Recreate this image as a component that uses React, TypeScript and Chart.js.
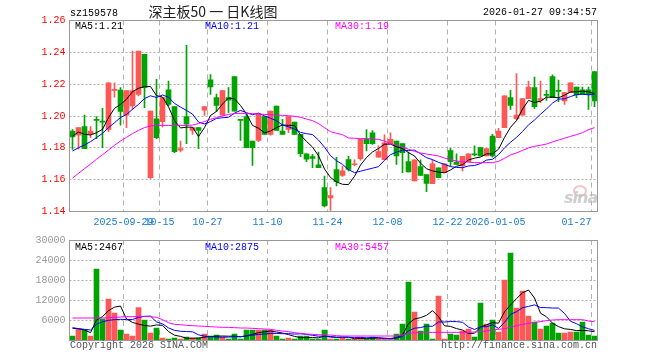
import React, { useEffect, useRef } from "react";
import { Chart, registerables } from "chart.js";

Chart.register(...registerables);

// ---------- DATA ----------
const dates = [
  "2025-09-16","2025-09-17","2025-09-18","2025-09-19","2025-09-22","2025-09-23","2025-09-24","2025-09-25","2025-09-26","2025-09-29","2025-09-30",
  "2025-10-09","2025-10-10","2025-10-13","2025-10-14","2025-10-15","2025-10-16","2025-10-17","2025-10-20","2025-10-21","2025-10-22","2025-10-23","2025-10-24","2025-10-27","2025-10-28","2025-10-29","2025-10-30","2025-10-31",
  "2025-11-03","2025-11-04","2025-11-05","2025-11-06","2025-11-07","2025-11-10","2025-11-11","2025-11-12","2025-11-13","2025-11-14","2025-11-17","2025-11-18","2025-11-19","2025-11-20","2025-11-21","2025-11-24","2025-11-25","2025-11-26","2025-11-27","2025-11-28",
  "2025-12-01","2025-12-02","2025-12-03","2025-12-04","2025-12-05","2025-12-08","2025-12-09","2025-12-10","2025-12-11","2025-12-12","2025-12-15","2025-12-16","2025-12-17","2025-12-18","2025-12-19","2025-12-22","2025-12-23","2025-12-24","2025-12-25","2025-12-26","2025-12-29","2025-12-30","2025-12-31",
  "2026-01-05","2026-01-06","2026-01-07","2026-01-08","2026-01-09","2026-01-12","2026-01-13","2026-01-14","2026-01-15","2026-01-16","2026-01-19","2026-01-20","2026-01-21","2026-01-22","2026-01-23","2026-01-26","2026-01-27",
];

const openP = [
  1.1906,1.1880,1.1933,1.1888,1.1977,1.1966,1.1916,1.2161,1.2163,1.2006,
  1.2063,1.2136,1.2387,1.1613,1.1983,1.1964,1.2165,1.2059,1.1786,1.1996,
  1.1910,1.1927,1.2036,1.2228,1.2115,1.2006,1.2115,1.2247,1.1979,1.1996,
  1.1843,1.1847,1.1996,1.1885,1.2063,1.1906,1.1916,1.1962,1.1885,1.1763,
  1.1745,1.1694,1.1550,1.1485,1.1663,1.1627,1.1726,1.1694,1.1732,1.1853,
  1.1895,1.1742,1.1726,1.1826,1.1843,1.1826,1.1713,1.1592,1.1682,1.1632,
  1.1575,1.1675,1.1644,1.1782,1.1711,1.1686,1.1713,1.1763,1.1801,1.1749,
  1.1874,1.1864,1.1927,1.2115,1.1983,1.2006,1.2109,1.2178,1.2098,1.2134,
  1.2247,1.2159,1.2094,1.2147,1.2182,1.2165,1.2165,1.2279,
];
const highP = [
  1.1915,1.1927,1.2006,1.1934,1.1996,1.2048,1.2209,1.2209,1.2178,1.2159,
  1.2408,1.2408,1.2387,1.2031,1.2230,1.2115,1.2220,1.2059,1.1843,1.2444,
  1.1927,1.1927,1.2059,1.2260,1.2138,1.2159,1.2178,1.2247,1.1979,1.2015,
  1.1843,1.2010,1.1996,1.2031,1.2063,1.1979,1.1996,1.1962,1.1885,1.1763,
  1.1759,1.1774,1.1623,1.1550,1.1740,1.1686,1.1747,1.1724,1.1853,1.1914,
  1.1908,1.1812,1.1881,1.1895,1.1843,1.1826,1.1774,1.1724,1.1724,1.1632,
  1.1724,1.1675,1.1700,1.1797,1.1763,1.1747,1.1763,1.1812,1.1801,1.1795,
  1.1885,1.1923,1.2126,1.2161,1.2266,1.2109,1.2220,1.2245,1.2220,1.2161,
  1.2258,1.2226,1.2147,1.2209,1.2182,1.2182,1.2182,1.2279,
];
const lowP = [
  1.1790,1.1791,1.1795,1.1864,1.1858,1.1801,1.1902,1.2119,1.1943,1.1927,
  1.2042,1.2126,1.2052,1.1608,1.1858,1.1931,1.2063,1.1770,1.1774,1.1826,
  1.1885,1.1795,1.2004,1.2136,1.2027,1.2006,1.2021,1.2031,1.1847,1.1801,
  1.1690,1.1839,1.1885,1.1879,1.1910,1.1885,1.1895,1.1885,1.1745,1.1713,
  1.1675,1.1675,1.1428,1.1407,1.1560,1.1621,1.1655,1.1686,1.1722,1.1780,
  1.1822,1.1742,1.1726,1.1826,1.1696,1.1644,1.1648,1.1592,1.1627,1.1525,
  1.1575,1.1613,1.1644,1.1686,1.1696,1.1655,1.1713,1.1749,1.1749,1.1749,
  1.1742,1.1864,1.1927,1.2042,1.1975,1.2006,1.2109,1.2048,1.2084,1.2098,
  1.2115,1.2090,1.2073,1.2147,1.2115,1.2136,1.2042,1.2059,
];
const closeP = [
  1.1868,1.1927,1.1795,1.1906,1.1973,1.1962,1.2209,1.2165,1.2029,1.2159,
  1.2159,1.2408,1.2178,1.2031,1.1864,1.2115,1.2073,1.1776,1.1795,1.1948,
  1.1927,1.1910,1.2059,1.2182,1.2067,1.2159,1.2100,1.2031,1.1973,1.1801,
  1.1801,1.2010,1.1885,1.2031,1.1910,1.1885,1.1996,1.1885,1.1763,1.1728,
  1.1734,1.1675,1.1435,1.1500,1.1588,1.1655,1.1665,1.1698,1.1853,1.1826,
  1.1826,1.1776,1.1832,1.1853,1.1749,1.1770,1.1648,1.1724,1.1627,1.1577,
  1.1700,1.1613,1.1700,1.1713,1.1696,1.1747,1.1763,1.1755,1.1749,1.1795,
  1.1749,1.1906,1.2126,1.2067,1.2006,1.2109,1.2182,1.2059,1.2109,1.2130,
  1.2115,1.2155,1.2147,1.2209,1.2132,1.2136,1.2136,1.2095,
];

const priceMa5 = [
  1.1874,1.1899,1.1885,1.1881,1.1895,1.1916,1.1990,1.2048,1.2073,1.2105,
  1.2153,1.2174,1.2185,1.2185,1.2128,1.2119,1.2058,1.1972,1.1925,1.1930,
  1.1930,1.1871,1.1927,1.2003,1.2029,1.2075,1.2113,1.2108,1.2066,1.2013,
  1.1941,1.1923,1.1894,1.1906,1.1927,1.1944,1.1941,1.1941,1.1880,1.1840,
  1.1805,1.1750,1.1667,1.1614,1.1586,1.1571,1.1569,1.1621,1.1692,1.1739,
  1.1774,1.1796,1.1823,1.1823,1.1807,1.1796,1.1770,1.1749,1.1704,1.1669,
  1.1655,1.1648,1.1643,1.1661,1.1684,1.1694,1.1724,1.1735,1.1742,1.1762,
  1.1762,1.1791,1.1865,1.1929,1.1971,1.2043,1.2098,1.2085,1.2093,1.2118,
  1.2119,1.2114,1.2131,1.2151,1.2152,1.2156,1.2152,1.2141,
];
const priceMa10 = [
  1.1780,1.1801,1.1818,1.1839,1.1864,1.1891,1.1927,1.1958,1.1990,1.2010,
  1.2042,1.2073,1.2110,1.2127,1.2116,1.2132,1.2118,1.2079,1.2056,1.2035,
  1.2012,1.1962,1.1950,1.1965,1.1985,1.1989,1.1992,1.2018,1.2035,1.2021,
  1.2008,1.2018,1.2001,1.1986,1.1970,1.1943,1.1932,1.1918,1.1897,1.1889,
  1.1883,1.1849,1.1804,1.1751,1.1719,1.1696,1.1663,1.1644,1.1653,1.1663,
  1.1672,1.1682,1.1722,1.1757,1.1773,1.1785,1.1783,1.1786,1.1763,1.1738,
  1.1726,1.1709,1.1696,1.1682,1.1677,1.1675,1.1686,1.1689,1.1701,1.1723,
  1.1728,1.1757,1.1800,1.1835,1.1866,1.1903,1.1944,1.1975,1.2011,1.2044,
  1.2081,1.2106,1.2108,1.2122,1.2135,1.2137,1.2133,1.2136,
];
const priceMa30 = [
  1.1610,1.1640,1.1669,1.1698,1.1728,1.1757,1.1786,1.1816,1.1843,1.1866,
  1.1889,1.1910,1.1927,1.1937,1.1941,1.1941,1.1941,1.1941,1.1941,1.1941,
  1.1943,1.1952,1.1965,1.1979,1.1990,1.2000,1.2010,1.2015,1.2015,1.2015,
  1.2015,1.2013,1.2010,1.2008,1.2006,1.2004,1.2002,1.1998,1.1992,1.1981,
  1.1971,1.1952,1.1927,1.1902,1.1891,1.1883,1.1862,1.1860,1.1858,1.1858,
  1.1855,1.1853,1.1843,1.1826,1.1816,1.1805,1.1791,1.1778,1.1768,1.1761,
  1.1755,1.1749,1.1736,1.1726,1.1717,1.1713,1.1710,1.1707,1.1707,1.1707,
  1.1707,1.1715,1.1734,1.1755,1.1768,1.1784,1.1799,1.1810,1.1816,1.1824,
  1.1837,1.1849,1.1860,1.1872,1.1883,1.1895,1.1914,1.1927,
];

const volume = [
  1200,3200,3000,1200,21300,6300,12300,8100,3000,1800,
  1200,9700,6000,2100,3600,600,300,600,300,900,
  600,600,1800,1200,1500,900,300,1800,300,3000,
  3000,3000,3000,3000,1200,300,600,300,1200,1200,
  300,300,3000,300,300,600,300,300,900,300,
  900,300,300,300,1800,4800,17400,8400,2700,4800,
  300,13200,300,1800,1500,2700,3300,900,11100,4800,
  6000,2400,18000,26100,9600,14700,7200,5400,3300,4200,
  5100,2100,2100,2400,2400,5400,1500,1200,
];
// 1 = rising day (red bar), 0 = falling day (green bar)
const volumeUp = [
  0,1,0,1,0,0,1,1,0,1,
  1,1,0,1,0,1,0,0,1,0,
  1,0,1,0,0,1,0,0,0,0,
  0,1,0,1,0,0,1,0,0,0,
  0,0,0,1,0,1,0,1,1,0,
  0,1,1,1,0,0,0,1,0,0,
  0,1,1,0,0,1,1,0,0,1,
  0,1,1,0,1,1,1,0,1,0,
  0,0,1,1,0,0,0,0,
];
const volMa5 = [
  3500,3400,3000,2200,5980,7000,8820,9840,10200,6300,
  5280,4760,4340,4160,4520,4400,2520,1440,1080,540,
  540,600,840,1020,1140,1200,1140,1140,960,1260,
  1680,2220,2460,2700,2400,2100,1620,1080,720,720,
  720,660,1200,1020,840,900,900,360,480,480,
  540,540,540,420,720,1500,4920,6300,6700,7400,
  8800,7000,4260,4080,3420,3000,1920,2040,3900,4560,
  5220,5040,8460,10500,12420,14160,15000,12600,8040,6960,
  5040,4020,3360,3180,2820,2880,2760,2467,
];
const volMa10 = [
  3700,3400,3200,3000,4700,5500,5900,6100,6200,6140,
  6140,6790,7090,7180,5410,4840,3640,2890,2620,2530,
  2470,1560,1140,1050,840,870,870,990,990,1200,
  1440,1680,1800,1980,1950,1890,1920,1770,1860,1680,
  1410,1140,1140,870,780,810,780,780,750,660,
  720,720,450,450,600,1020,2730,3540,3720,4170,
  4110,5400,5400,5550,5520,5310,3900,3150,3990,3990,
  4560,3480,5250,7680,8490,9690,10080,10530,9750,9690,
  9600,9570,7980,5610,4890,3960,3390,2875,
];
const volMa30 = [
  6600,6600,6600,6600,6600,6600,6700,6800,6900,7000,
  7000,7100,7100,7000,6800,6100,5200,4700,4600,4400,
  4300,4200,4100,4000,3900,3800,3800,3700,3600,3600,
  3500,3400,3300,3200,2900,2700,2500,2200,2000,1800,
  1700,1600,1500,1500,1300,1200,1200,1200,1200,1200,
  1200,1200,1200,1200,1200,1500,1900,2200,2300,2300,
  2300,2300,2300,2300,2300,2300,2300,2400,2500,2700,
  3000,3200,3400,3800,4300,4700,5000,5300,5500,5800,
  6000,6100,6100,6100,6100,6100,5700,5457,
];

const tickDates = ["2025-09-29","2025-10-15","2025-10-27","2025-11-10","2025-11-24","2025-12-08","2025-12-22","2026-01-05","2026-01-27"];
const tickTexts = ["2025-09-29","10-15","10-27","11-10","11-24","12-08","12-22","2026-01-05","01-27"];
const priceGridValues = [1.16, 1.18, 1.20, 1.22, 1.24];
const volGridValues = [6000, 12000, 18000, 24000];

// ---------- STYLE ----------
const UP = "#ff5656";
const DOWN = "#00a400";
const GRID = "#b0b0b0";
const FRAME = "#999999";
const MONO = "'Liberation Mono', 'DejaVu Sans Mono', monospace";

function makeFrame(id: string, hVals: number[], showX: boolean) {
  return {
    id,
    beforeDatasetsDraw(chart: any) {
      const { ctx, chartArea: a, scales } = chart;
      const xs = scales.x;
      const ys = scales.y;
      ctx.save();
      ctx.lineWidth = 1;
      ctx.strokeStyle = GRID;
      ctx.setLineDash([2, 2]);
      for (const v of hVals) {
        const py = Math.floor(ys.getPixelForValue(v)) + 0.5;
        ctx.beginPath();
        ctx.moveTo(a.left, py);
        ctx.lineTo(a.right, py);
        ctx.stroke();
      }
      ctx.setLineDash([5, 4]);
      const half = (a.right - a.left) / dates.length / 2;
      for (const d of tickDates) {
        const i = dates.indexOf(d);
        const px = Math.floor(xs.getPixelForValue(i) - half) + 0.5;
        ctx.beginPath();
        ctx.moveTo(px, a.top);
        ctx.lineTo(px, a.bottom);
        ctx.stroke();
      }
      ctx.restore();
    },
    afterDatasetsDraw(chart: any) {
      const { ctx, chartArea: a } = chart;
      ctx.save();
      ctx.lineWidth = 1;
      ctx.strokeStyle = FRAME;
      ctx.setLineDash([]);
      const l = Math.floor(a.left) + 0.5;
      const r = Math.floor(a.right) + 0.5;
      const t = Math.floor(a.top) + 0.5;
      const b = Math.floor(a.bottom) + 0.5;
      ctx.strokeRect(l, t, r - l, b - t);
      ctx.restore();
    },
    afterDraw(chart: any) {
      if (!showX) return;
      const { ctx, chartArea: a, scales } = chart;
      const xs = scales.x;
      const half = (a.right - a.left) / dates.length / 2;
      ctx.save();
      ctx.font = "10px " + MONO;
      ctx.fillStyle = "#1a7ad4";
      ctx.textAlign = "center";
      ctx.textBaseline = "alphabetic";
      tickDates.forEach((d, k) => {
        const i = dates.indexOf(d);
        let cx = xs.getPixelForValue(i) - half;
        const w = ctx.measureText(tickTexts[k]).width;
        if (cx + w / 2 > a.right - 6) cx = a.right - 6 - w / 2;
        ctx.fillText(tickTexts[k], cx, 224.5);
      });
      ctx.restore();
    },
  };
}

function Txt(props: any) {
  const { left, right, top, color, children, size } = props;
  const fs = size || 10;
  return (
    <div
      style={{
        position: "absolute",
        left,
        right,
        top,
        color: color || "#000",
        fontFamily: MONO,
        fontSize: fs,
        lineHeight: fs + "px",
        whiteSpace: "pre",
        zIndex: 3,
      }}
    >
      {children}
    </div>
  );
}

export default function App() {
  const priceRef = useRef<HTMLCanvasElement>(null);
  const volRef = useRef<HTMLCanvasElement>(null);

  useEffect(() => {
    const candleColors = closeP.map((c, i) => (c >= openP[i] ? UP : DOWN));
    const volColors = volumeUp.map((u) => (u ? UP : DOWN));
    const lineDs = (data: number[], color: string) => ({
      type: "line" as const,
      data,
      borderColor: color,
      borderWidth: 1,
      pointRadius: 0,
      pointHoverRadius: 0,
      fill: false,
      tension: 0,
      order: 0,
    });

    const priceChart = new Chart(priceRef.current as HTMLCanvasElement, {
      type: "bar",
      data: {
        labels: dates,
        datasets: [
          {
            type: "bar",
            data: dates.map((_, i) => [lowP[i], highP[i]]),
            backgroundColor: candleColors,
            barThickness: 1,
            grouped: false,
            order: 2,
          } as any,
          {
            type: "bar",
            data: dates.map((_, i) => [Math.min(openP[i], closeP[i]), Math.max(openP[i], closeP[i])]),
            backgroundColor: candleColors,
            barThickness: 5,
            grouped: false,
            minBarLength: 1,
            order: 1,
          } as any,
          lineDs(priceMa30, "#ff00ff"),
          lineDs(priceMa10, "#0000ff"),
          lineDs(priceMa5, "#000000"),
        ],
      },
      options: {
        responsive: false,
        maintainAspectRatio: false,
        animation: false,
        events: [],
        layout: { padding: { left: 0, right: 62.5, top: 20.5, bottom: 148.5 } },
        plugins: { legend: { display: false }, tooltip: { enabled: false } },
        scales: {
          x: { display: false, offset: true, grid: { display: false } },
          y: {
            position: "left",
            min: 1.14,
            max: 1.26,
            afterFit: (s: any) => {
              s.width = 69.5;
            },
            grid: { display: false, drawTicks: false },
            border: { display: false },
            ticks: {
              stepSize: 0.02,
              autoSkip: false,
              color: "#ff0000",
              padding: 4,
              font: { family: MONO, size: 10 },
              callback: (v: any) => Number(v).toFixed(2),
            },
          },
        },
      } as any,
      plugins: [makeFrame("priceFrame", priceGridValues, true)],
    });

    const volChart = new Chart(volRef.current as HTMLCanvasElement, {
      type: "bar",
      data: {
        labels: dates,
        datasets: [
          {
            type: "bar",
            data: volume,
            backgroundColor: volColors,
            barThickness: 5,
            order: 1,
          } as any,
          lineDs(volMa30, "#ff00ff"),
          lineDs(volMa10, "#0000ff"),
          lineDs(volMa5, "#000000"),
        ],
      },
      options: {
        responsive: false,
        maintainAspectRatio: false,
        animation: false,
        events: [],
        layout: { padding: { left: 0, right: 62.5, top: 240, bottom: 20 } },
        plugins: { legend: { display: false }, tooltip: { enabled: false } },
        scales: {
          x: { display: false, offset: true, grid: { display: false } },
          y: {
            position: "left",
            min: 0,
            max: 30000,
            afterFit: (s: any) => {
              s.width = 69.5;
            },
            grid: { display: false, drawTicks: false },
            border: { display: false },
            ticks: {
              stepSize: 6000,
              autoSkip: false,
              color: "#999999",
              padding: 4,
              font: { family: MONO, size: 10 },
              callback: (v: any) => (Number(v) === 0 ? "" : String(v)),
            },
          },
        },
      } as any,
      plugins: [makeFrame("volFrame", volGridValues, false)],
    });

    return () => {
      priceChart.destroy();
      volChart.destroy();
    };
  }, []);

  return (
    <div
      style={{
        position: "absolute",
        left: 0,
        top: 0,
        width: 660,
        height: 360,
        background: "#ffffff",
        overflow: "hidden",
      }}
    >
      <canvas ref={volRef} width={660} height={360} style={{ position: "absolute", left: 0, top: 0, zIndex: 1 }} />
      <canvas ref={priceRef} width={660} height={360} style={{ position: "absolute", left: 0, top: 0, zIndex: 2 }} />

      <Txt left={70} top={9}>sz159578</Txt>
      <div
        style={{
          position: "absolute",
          left: 113,
          top: 4,
          width: 200,
          textAlign: "center",
          fontFamily: "'Noto Sans CJK SC', sans-serif",
          fontSize: 14,
          lineHeight: "14px",
          color: "#222",
          whiteSpace: "pre",
          zIndex: 3,
        }}
      >
        深主板50 一 日K线图
      </div>
      <Txt right={63} top={8}>2026-01-27 09:34:57</Txt>

      <Txt left={75} top={22}>MA5:1.21</Txt>
      <Txt left={205} top={22} color="#0000ff">MA10:1.21</Txt>
      <Txt left={335} top={22} color="#ff00ff">MA30:1.19</Txt>

      <Txt left={75} top={243}>MA5:2467</Txt>
      <Txt left={205} top={243} color="#0000ff">MA10:2875</Txt>
      <Txt left={335} top={243} color="#ff00ff">MA30:5457</Txt>

      <Txt left={70} top={341} color="#555">Copyright 2026 SINA.COM</Txt>
      <Txt right={63} top={341} color="#555">http://finance.sina.com.cn</Txt>

      <div
        style={{
          position: "absolute",
          left: 573,
          top: 185,
          width: 10,
          height: 8,
          borderRadius: "50%",
          border: "2px solid rgba(235,150,150,0.55)",
          zIndex: 3,
        }}
      />
      <div
        style={{
          position: "absolute",
          left: 564,
          top: 190,
          fontFamily: "'DejaVu Sans', sans-serif",
          fontStyle: "italic",
          fontWeight: "bold",
          fontSize: 16,
          lineHeight: "16px",
          color: "rgba(190,190,190,0.75)",
          letterSpacing: -1,
          zIndex: 3,
        }}
      >
        sina
      </div>
    </div>
  );
}
